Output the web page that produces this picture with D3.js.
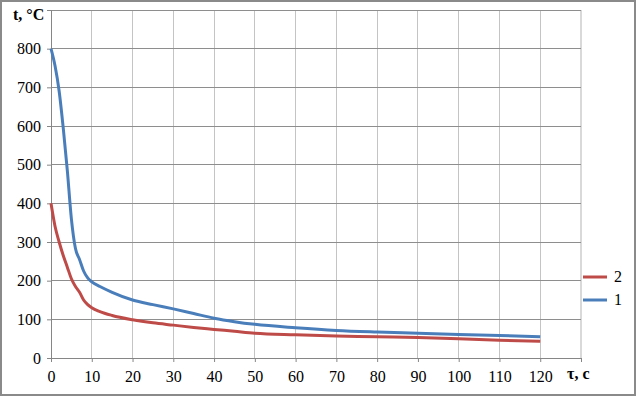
<!DOCTYPE html>
<html>
<head>
<meta charset="utf-8">
<script src="https://cdn.jsdelivr.net/npm/d3@7"></script>
<style>
  body { margin: 0; background: #fff; }
</style>
</head>
<body>
<div id="chart"></div>
<script>
// time, s
const times = [0, 1, 2, 3, 4, 5, 6, 7, 8, 9, 10, 12, 15, 20, 25, 30, 35, 40, 45, 50, 60, 70, 80, 90, 100, 110, 120]
// series 1 (blue) and 2 (red), temperature °C
const temp1 = [800, 755, 690, 595, 485, 360, 283, 255, 225, 207, 197, 185, 170, 150, 138, 127, 115, 103, 94, 87, 78, 71, 67, 64, 61, 58, 55]
const temp2 = [400, 340, 300, 265, 235, 205, 185, 170, 150, 138, 130, 120, 110, 99, 91, 85, 79, 74, 69, 64, 60, 57, 55, 53, 50, 46, 43]
const xTicks = [0, 10, 20, 30, 40, 50, 60, 70, 80, 90, 100, 110, 120]
const yTicks = [0, 100, 200, 300, 400, 500, 600, 700, 800]
const seriesNames = ['2', '1']

const serif = "'Times New Roman', 'Liberation Serif', 'DejaVu Serif', serif"
let w = 636, h = 396
let svg = d3.select('#chart').append('svg').attr('width', w).attr('height', h)
  .style('font-family', serif)

svg.append('rect').attr('x', 1).attr('y', 1).attr('width', w - 2).attr('height', h - 2)
  .attr('fill', '#fff').attr('stroke', '#8a8a8a').attr('stroke-width', 2)

let x = d3.scaleLinear().domain([0, 130]).range([51, 581])
let y = d3.scaleLinear().domain([0, 900]).range([358, 10])

// vertical grid
svg.append('g').selectAll('line').data(xTicks.concat([130])).enter().append('line')
  .attr('x1', d => x(d)).attr('x2', d => x(d))
  .attr('y1', y(0)).attr('y2', y(900))
  .attr('stroke', d => d === 130 ? '#d9d9d9' : '#c4c4c4').attr('stroke-width', d => d === 130 ? 2 : 1)
  .attr('shape-rendering', 'crispEdges')

// horizontal grid
svg.append('g').selectAll('line').data(yTicks.slice(1).concat([900])).enter().append('line')
  .attr('x1', x(0)).attr('x2', x(130))
  .attr('y1', d => y(d)).attr('y2', d => y(d))
  .attr('stroke', '#8e8e8e').attr('stroke-width', 1)
  .attr('shape-rendering', 'crispEdges')

// axes
let xAxis = svg.append('g').attr('transform', `translate(0,${y(0)})`)
  .call(d3.axisBottom(x).tickValues(xTicks.concat([130])).tickSize(4).tickFormat(d => d === 130 ? '' : d))
let yAxis = svg.append('g').attr('transform', `translate(${x(0)},0)`)
  .call(d3.axisLeft(y).tickValues(yTicks.concat([900])).tickSize(4).tickFormat(d => d === 900 ? '' : d))

;[xAxis, yAxis].forEach(a => {
  a.attr('font-family', null).attr('font-size', null)
  a.select('.domain').attr('stroke', '#868686')
  a.selectAll('.tick line').attr('stroke', '#868686')
  a.selectAll('text').attr('fill', '#000').style('font-family', serif).style('font-size', '16px')
})
xAxis.selectAll('text').attr('dy', '1.05em')
yAxis.selectAll('text').attr('x', -10)

svg.append('text').attr('x', 13).attr('y', 20).text('t, °C')
  .style('font-family', serif).style('font-size', '16px').style('font-weight', 'bold')
svg.append('text').attr('x', 567).attr('y', 379).text('τ, c')
  .style('font-family', serif).style('font-size', '16px').style('font-weight', 'bold')

let line = d3.line().x((d, i) => x(times[i])).y(d => y(d)).curve(d3.curveMonotoneX)

svg.append('path').datum(temp1).attr('d', line)
  .attr('fill', 'none').attr('stroke', '#4a7ebb').attr('stroke-width', 3)
  .attr('stroke-linejoin', 'round')
svg.append('path').datum(temp2).attr('d', line)
  .attr('fill', 'none').attr('stroke', '#be4b48').attr('stroke-width', 3)
  .attr('stroke-linejoin', 'round')

// legend
let legendColors = ['#be4b48', '#4a7ebb']
let legend = svg.append('g').selectAll('g').data(seriesNames).enter().append('g')
  .attr('transform', (d, i) => `translate(583,${277 + i * 23})`)
legend.append('line').attr('x1', 0).attr('x2', 24).attr('y1', 0).attr('y2', 0)
  .attr('stroke', (d, i) => legendColors[i]).attr('stroke-width', 3)
legend.append('text').attr('x', 31).attr('y', 5).text(d => d)
  .style('font-family', serif).style('font-size', '16px')
</script>
</body>
</html>
